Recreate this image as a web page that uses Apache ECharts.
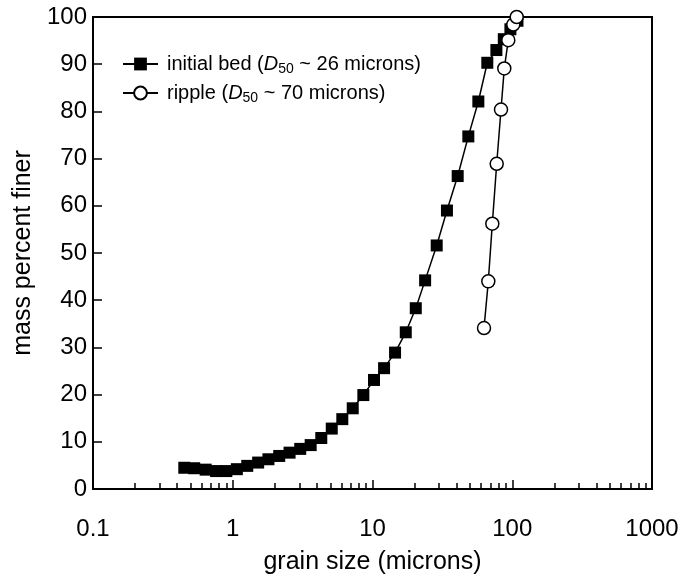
<!DOCTYPE html>
<html>
<head>
<meta charset="utf-8">
<script src="https://cdn.jsdelivr.net/npm/echarts@6/dist/echarts.min.js"></script>
<style>html,body{margin:0;padding:0;background:#fff}#c{width:681px;height:575px}</style>
</head>
<body>
<div id="c"></div>
<script>
// grain size (microns) and mass percent finer
const bedSize = [0.45, 0.53, 0.64, 0.76, 0.90, 1.07, 1.27, 1.52, 1.80, 2.15, 2.55, 3.04, 3.61, 4.30, 5.11, 6.08, 7.22, 8.60, 10.25, 12.1, 14.5, 17.3, 20.4, 23.8, 28.8, 34.1, 40.7, 48.5, 57.2, 66.3, 77, 87, 97, 109];
const bedFiner = [4.5, 4.4, 4.1, 3.8, 3.8, 4.2, 4.9, 5.6, 6.3, 7.0, 7.7, 8.5, 9.3, 10.8, 12.8, 14.8, 17.1, 19.9, 23.1, 25.6, 28.9, 33.2, 38.3, 44.2, 51.6, 59.0, 66.3, 74.7, 82.1, 90.3, 93.0, 95.3, 97.4, 99.2];
const rippleSize = [62.8, 67.4, 72.0, 77.4, 83.1, 87.7, 93.7, 101.7, 107.6];
const rippleFiner = [34.1, 44.0, 56.2, 68.9, 80.4, 89.1, 95.1, 98.4, 100];
const xMajor = [0.1, 1, 10, 100, 1000];
const xMinor = [0.2,0.3,0.4,0.5,0.6,0.7,0.8,0.9, 2,3,4,5,6,7,8,9, 20,30,40,50,60,70,80,90, 200,300,400,500,600,700,800,900];
const seriesNames = ['initial bed', 'ripple'];
const legendTexts = {
  'initial bed': '{f|initial bed (}{i|D}{s|50}{t| ~ 26 microns)}',
  'ripple': '{f|ripple (}{i|D}{s|50}{t| ~ 70 microns)}'
};

const FONT = '"Liberation Sans", Arial, Helvetica, sans-serif';
const chart = echarts.init(document.getElementById('c'));
const zip = (a, b) => a.map((v, i) => [v, b[i]]);

chart.setOption({
  animation: false,
  backgroundColor: '#fff',
  textStyle: { fontFamily: FONT, color: '#000' },
  grid: { left: 93, right: 29, top: 17, bottom: 86, show: true, borderColor: '#000', borderWidth: 2, containLabel: false, outerBoundsMode: 'none' },
  legend: {
    orient: 'vertical', left: 117, top: 49, itemWidth: 35, itemHeight: 16, itemGap: 7,
    data: seriesNames,
    formatter: n => legendTexts[n],
    textStyle: {
      fontFamily: FONT, color: '#000', fontSize: 20,
      rich: {
        f: { fontSize: 20, fontFamily: FONT, color: '#000', padding: [0, 0, 0, 4] },
        t: { fontSize: 20, fontFamily: FONT, color: '#000' },
        i: { fontSize: 20, fontFamily: FONT, color: '#000', fontStyle: 'italic' },
        s: { fontSize: 14, fontFamily: FONT, color: '#000', padding: [10, 0, 0, 0] }
      }
    }
  },
  xAxis: [{
    type: 'log', logBase: 10, min: 0.1, max: 1000,
    name: 'grain size (microns)', nameLocation: 'middle', nameGap: 61,
    nameTextStyle: { fontSize: 25, fontFamily: FONT, color: '#000' },
    axisLine: { show: true, lineStyle: { color: '#000', width: 2 } },
    axisTick: { show: true, inside: true, length: 9, lineStyle: { color: '#000', width: 1.5 }, customValues: xMajor },
    minorTick: { show: false },
    splitLine: { show: false },
    axisLabel: { fontSize: 24, fontFamily: FONT, color: '#000', margin: 28, customValues: xMajor, formatter: v => String(v) }
  }, {
    type: 'log', logBase: 10, min: 0.1, max: 1000, position: 'bottom', gridIndex: 0,
    axisLine: { show: false },
    axisTick: { show: true, inside: true, length: 6, lineStyle: { color: '#000', width: 1.5 }, customValues: xMinor },
    axisLabel: { show: false },
    splitLine: { show: false }
  }],
  yAxis: {
    type: 'value', min: 0, max: 100, interval: 10,
    name: 'mass percent finer', nameLocation: 'middle', nameGap: 41,
    nameTextStyle: { fontSize: 25, fontFamily: FONT, color: '#000' },
    axisLine: { show: true, lineStyle: { color: '#000', width: 2 } },
    axisTick: { show: true, inside: true, length: 9, lineStyle: { color: '#000', width: 1.5 } },
    splitLine: { show: false },
    axisLabel: { fontSize: 24, fontFamily: FONT, color: '#000', margin: 6 }
  },
  series: [{
    name: seriesNames[0], type: 'line', data: zip(bedSize, bedFiner),
    symbol: 'rect', symbolSize: 12,
    lineStyle: { color: '#000', width: 1.5 },
    itemStyle: { color: '#000', borderColor: '#000', borderWidth: 0 },
    z: 2
  }, {
    name: seriesNames[1], type: 'line', data: zip(rippleSize, rippleFiner),
    symbol: 'circle', symbolSize: 13,
    lineStyle: { color: '#000', width: 1.5 },
    itemStyle: { color: '#fff', borderColor: '#000', borderWidth: 1.5 },
    z: 3
  }]
});
</script>
</body>
</html>
